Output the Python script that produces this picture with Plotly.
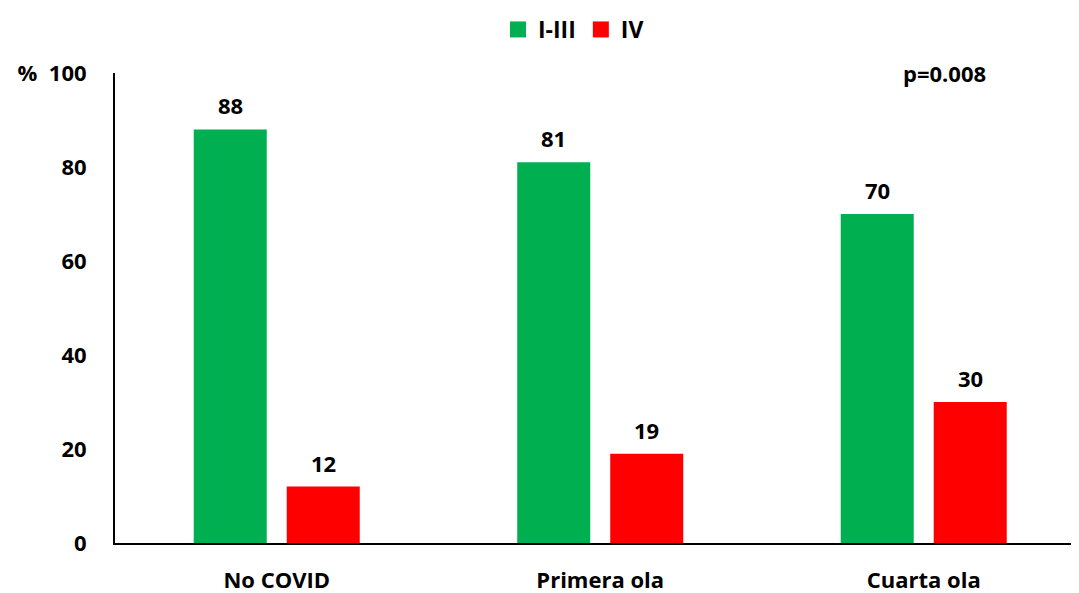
import plotly.graph_objects as go

categories = ["No COVID", "Primera ola", "Cuarta ola"]
series_names = ["I-III", "IV"]
values_i_iii = [88, 81, 70]
values_iv = [12, 19, 30]
y_ticks = [0, 20, 40, 60, 80, 100]
y_ticktext = ["0", "20", "40", "60", "80", "%  100"]
p_text = "p=0.008"

FONT = "Open Sans"
GREEN = "#00B050"
RED = "#FF0000"
fig = go.Figure()
for name, vals, col in [(series_names[0], values_i_iii, GREEN), (series_names[1], values_iv, RED)]:
    fig.add_trace(go.Bar(
        x=categories, y=vals, name=name,
        marker=dict(color=col, line=dict(width=0)),
        showlegend=False,
    ))
# legend entries with larger square swatches
for name, col in [(series_names[0], GREEN), (series_names[1], RED)]:
    fig.add_trace(go.Scatter(
        x=[None], y=[None], mode="markers", name=name,
        marker=dict(symbol="square", size=18, color=col),
        showlegend=True,
    ))

annotations = []
for vals, shift in [(values_i_iii, -46.5), (values_iv, 46.5)]:
    for c, v in zip(categories, vals):
        annotations.append(dict(
            text=str(v), x=c, y=v, xref="x", yref="y", xshift=shift, yshift=24,
            showarrow=False, xanchor="center", yanchor="middle",
            font=dict(family=FONT, size=22, color="black", weight="bold")))
annotations.append(dict(text=p_text, x=0.86, xref="paper", y=100, yref="y",
                        showarrow=False, xanchor="center", yanchor="middle",
                        font=dict(family=FONT, size=22, color="black", weight="bold")))

fig.update_layout(
    width=1071, height=585,
    margin=dict(l=107, r=0, t=65, b=50, autoexpand=False),
    paper_bgcolor="white", plot_bgcolor="white",
    barmode="group", bargap=0.425, bargroupgap=0.215,
    font=dict(family=FONT, size=22, color="black"),
    showlegend=True,
    legend=dict(orientation="h", xref="container", x=0.528, xanchor="center",
                yref="container", y=1.0, yanchor="top",
                font=dict(family=FONT, size=23, color="black", weight="bold"),
                itemwidth=30, tracegroupgap=0),
    xaxis=dict(range=[-0.5, 2.48], showline=True, linecolor="black", linewidth=2,
               showgrid=False, ticks="", ticklabelstandoff=17, automargin=False,
               tickfont=dict(family=FONT, size=22, color="black", weight="bold")),
    yaxis=dict(range=[0, 100], tickvals=y_ticks, ticktext=y_ticktext,
               showline=True, linecolor="black", linewidth=2, automargin=False,
               showgrid=False, zeroline=False, ticks="", ticklabelstandoff=22,
               tickfont=dict(family=FONT, size=22, color="black", weight="bold")),
    annotations=annotations,
)

fig.write_html("out.html")
